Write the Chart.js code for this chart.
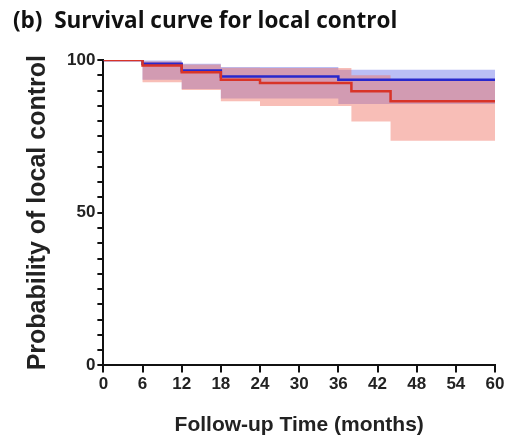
<!DOCTYPE html>
<html>
<head>
<meta charset="utf-8">
<script src="https://cdn.jsdelivr.net/npm/chart.js@4.4.1/dist/chart.umd.min.js"></script>
<style>
  html, body { margin: 0; padding: 0; background: #fff; }
  #wrap { position: relative; width: 511px; height: 442px; }
  #titre {
    position: absolute; left: 13px; top: 4px;
    font-family: "Open Sans", sans-serif; font-weight: bold; font-size: 22.5px;
    color: #111; white-space: pre;
  }
  #cv { position: absolute; left: 0; top: 0; }
</style>
</head>
<body>
<div id="wrap">
  <canvas id="cv" width="511" height="442"></canvas>
  <div id="titre">(b)  Survival curve for local control</div>
</div>
<script>
// Données (mois / probabilité %)
const blueTimes = [0, 6, 12, 18, 36, 60];
const blueSurv  = [100, 98.8, 96.6, 94.6, 93.5, 93.5];
const blueUpper = [100, 99.8, 98.8, 97.7, 96.8, 96.8];
const blueLower = [100, 93.5, 90.5, 87.4, 85.6, 85.6];

const redTimes = [0, 6, 12, 18, 24, 38, 44, 60];
const redSurv  = [100, 98.2, 96, 93.5, 92.5, 89.8, 86.5, 86.5];
const redUpper = [100, 99.5, 98.5, 97.5, 97.4, 95, 93.8, 93.8];
const redLower = [100, 92.7, 90.2, 86.5, 84.9, 79.9, 73.6, 73.6];

const xTicks = [0, 6, 12, 18, 24, 30, 36, 42, 48, 54, 60];
const yLabels = [0, 50, 100];

function pts(times, vals) {
    return times.map((t, i) => ({ x: t, y: vals[i] }));
}

const bleu = "#2828cc";
const rouge = "#d83428";

// le premier dataset est dessiné au-dessus
const ds = [
    { data: pts(redTimes, redSurv), borderColor: rouge, borderWidth: 2.5, pointRadius: 0, stepped: "before", fill: false },
    { data: pts(blueTimes, blueSurv), borderColor: bleu, borderWidth: 2.5, pointRadius: 0, stepped: "before", fill: false },
    // bandes de confiance (rouge)
    { data: pts(redTimes, redUpper), borderWidth: 0, pointRadius: 0, stepped: "before",
      fill: "+1", backgroundColor: "rgba(240,110,95,0.45)" },
    { data: pts(redTimes, redLower), borderWidth: 0, pointRadius: 0, stepped: "before", fill: false },
    // bandes de confiance (bleu)
    { data: pts(blueTimes, blueUpper), borderWidth: 0, pointRadius: 0, stepped: "before",
      fill: "+1", backgroundColor: "rgba(90,100,230,0.42)" },
    { data: pts(blueTimes, blueLower), borderWidth: 0, pointRadius: 0, stepped: "before", fill: false }
];

const police = "'Liberation Sans', Arial, sans-serif";
const tickFont = { family: police, weight: "bold", size: 17 };

new Chart(document.getElementById("cv"), {
    type: "line",
    data: { datasets: ds },
    options: {
        responsive: false,
        animation: false,
        layout: { padding: { top: 60, right: 16, left: 19, bottom: 0 } },
        plugins: { legend: { display: false }, tooltip: { enabled: false } },
        scales: {
            x: {
                type: "linear", min: 0, max: 60,
                afterBuildTicks: axis => { axis.ticks = xTicks.map(v => ({ value: v })); },
                ticks: { color: "#222", font: tickFont, padding: 2, autoSkip: false, maxRotation: 0 },
                grid: { drawOnChartArea: false, tickLength: 7, color: "#111", lineWidth: 2 },
                border: { color: "#111", width: 2 },
                title: { display: true, text: "Follow-up Time (months)", color: "#222",
                         font: { family: police, weight: "bold", size: 21 },
                         padding: { top: 16 } }
            },
            y: {
                min: 0, max: 100,
                ticks: { stepSize: 5, maxTicksLimit: 30, color: "#222", font: tickFont, padding: 2, autoSkip: false,
                         callback: v => yLabels.includes(v) ? v : "" },
                grid: { drawOnChartArea: false, tickLength: 6, color: "#111", lineWidth: 2 },
                border: { color: "#111", width: 2 },
                title: { display: true, text: "Probability of local control", color: "#222",
                         font: { family: police, weight: "bold", size: 25 },
                         padding: { bottom: 12 } }
            }
        }
    }
});
</script>
</body>
</html>
